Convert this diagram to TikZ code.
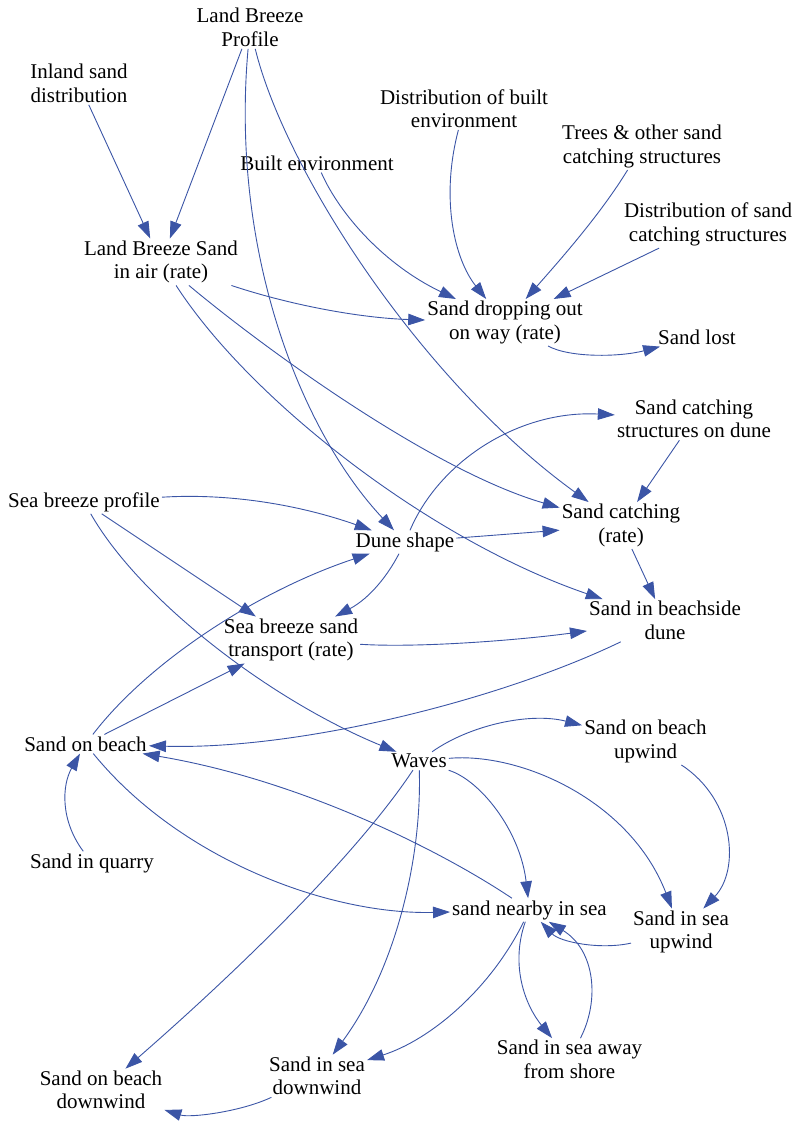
\documentclass[tikz,border=0pt]{standalone}
\usepackage{fontspec}
\setmainfont{Liberation Serif}
\usetikzlibrary{arrows.meta}
\definecolor{linkblue}{RGB}{59,85,166}

\begin{document}
\begin{tikzpicture}[x=1pt, y=-1pt,
        var/.style={align=center, inner sep=2pt, font=\fontsize{21}{23.5}\selectfont},
        link/.style={draw=linkblue, line width=0.9pt, -{Triangle[length=17pt, width=11.5pt]}}]
    \useasboundingbox (0,0) rectangle (799,1121);

    % variables
    \node[var] (lbp) at (250,27.5) {Land Breeze\\Profile};
    \node[var] (isd) at (79,83.5) {Inland sand\\distribution};
    \node[var] (lbs) at (161,262) {Land Breeze Sand\\in air (rate)};
    \node[var] (be) at (317,163) {Built environment};
    \node[var] (dbe) at (464,108.5) {Distribution of built\\environment};
    \node[var] (tsc) at (642,146.5) {Trees \& other sand\\catching structures};
    \node[var] (dsc) at (708,224.5) {Distribution of sand\\catching structures};
    \node[var] (sdo) at (505,322.5) {Sand dropping out\\on way (rate)};
    \node[var] (sl) at (697,337) {Sand lost};
    \node[var] (scsd) at (694,419) {Sand catching\\structures on dune};
    \node[var] (sbp) at (84,502) {Sea breeze profile};
    \node[var] (ds) at (405,542) {Dune shape};
    \node[var] (sc) at (621,525.5) {Sand catching\\(rate)};
    \node[var] (sbd) at (665,620.5) {Sand in beachside\\dune};
    \node[var] (sbt) at (291,640) {Sea breeze sand\\transport (rate)};
    \node[var] (sob) at (85.5,744) {Sand on beach};
    \node[var] (w) at (419,761) {Waves};
    \node[var] (sbu) at (645.5,741.5) {Sand on beach\\upwind};
    \node[var] (sq) at (92,863) {Sand in quarry};
    \node[var] (sns) at (529.5,910) {sand nearby in sea};
    \node[var] (ssu) at (681,932) {Sand in sea\\upwind};
    \node[var] (ssa) at (569.5,1059.5) {Sand in sea away\\from shore};
    \node[var] (ssd) at (317,1076) {Sand in sea\\downwind};
    \node[var] (sobd) at (101,1090) {Sand on beach\\downwind};

    % land breeze part
    \draw[link] (isd) -- (lbs);
    \draw[link] (lbp) -- (lbs);
    \draw[link] (lbp) .. controls (230,250) and (300,430) .. (ds);
    \draw[link] (lbp) .. controls (285,170) and (420,380) .. (sc);
    \draw[link] (be) .. controls (340,215) and (385,265) .. (sdo);
    \draw[link] (dbe) .. controls (440,200) and (455,260) .. (sdo);
    \draw[link] (tsc) .. controls (600,215) and (560,260) .. (sdo);
    \draw[link] (dsc) -- (sdo);
    \draw[link] (lbs) .. controls (290,305) and (360,318) .. (sdo);
    \draw[link] (sdo) .. controls (570,358) and (620,357) .. (sl);
    \draw[link] (lbs) .. controls (260,345) and (430,470) .. (sc);
    \draw[link] (lbs) .. controls (250,400) and (430,540) .. (sbd);

    % dune
    \draw[link] (ds) -- (sc);
    \draw[link] (ds) .. controls (440,460) and (520,410) .. (scsd);
    \draw[link] (scsd) -- (sc);
    \draw[link] (sc) -- (sbd);
    \draw[link] (sbp) .. controls (230,493) and (300,505) .. (ds);
    \draw[link] (sbp) -- (sbt);
    \draw[link] (sbp) .. controls (140,600) and (270,700) .. (w);
    \draw[link] (ds) .. controls (388,575) and (370,598) .. (sbt);
    \draw[link] (sob) .. controls (150,660) and (260,590) .. (ds);
    \draw[link] (sob) -- (sbt);
    \draw[link] (sbt) .. controls (420,648) and (520,640) .. (sbd);
    \draw[link] (sbd) .. controls (500,700) and (300,750) .. (sob);

    % beach and sea
    \draw[link] (sq) .. controls (60,820) and (62,785) .. (sob);
    \draw[link] (sob) .. controls (180,860) and (330,915) .. (sns);
    \draw[link] (sns) .. controls (440,850) and (300,780) .. (sob);
    \draw[link] (w) .. controls (470,725) and (530,712) .. (sbu);
    \draw[link] (w) .. controls (480,780) and (520,830) .. (sns);
    \draw[link] (w) .. controls (520,752) and (630,800) .. (ssu);
    \draw[link] (w) .. controls (360,850) and (250,960) .. (sobd);
    \draw[link] (w) .. controls (422,860) and (395,970) .. (ssd);
    \draw[link] (sbu) .. controls (735,800) and (740,870) .. (ssu);
    \draw[link] (ssu) .. controls (600,950) and (560,942) .. (sns);
    \draw[link] (ssa) .. controls (600,1000) and (595,950) .. (sns);
    \draw[link] (sns) .. controls (510,965) and (525,1005) .. (ssa);
    \draw[link] (sns) .. controls (490,990) and (430,1040) .. (ssd);
    \draw[link] (ssd) .. controls (240,1112) and (190,1118) .. (sobd);
\end{tikzpicture}
\end{document}
